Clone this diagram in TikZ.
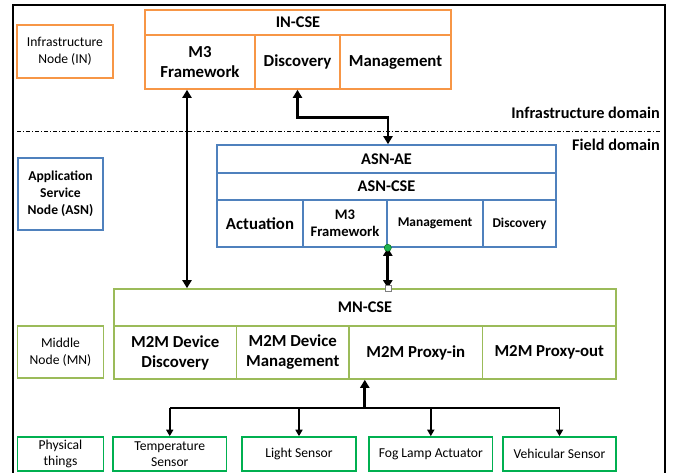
\documentclass[tikz,border=0pt]{standalone}
\usepackage{fontspec}
\setmainfont{Carlito}
\usetikzlibrary{arrows.meta,calc}
\definecolor{orng}{RGB}{247,150,70}
\definecolor{blu}{RGB}{79,129,189}
\definecolor{olv}{RGB}{155,187,89}
\definecolor{grn}{RGB}{0,176,80}
\tikzset{
  bx/.style={draw, line width=1.6pt, inner sep=0pt, align=center, text=black},
  ob/.style={bx, draw=orng},
  bb/.style={bx, draw=blu},
  gb/.style={bx, draw=olv},
  db/.style={bx, draw=grn},
  big/.style={font=\bfseries\fontsize{16.8}{20}\selectfont},
  hdr/.style={font=\bfseries\fontsize{16.3}{19}\selectfont},
  sml/.style={font=\fontsize{13.6}{16.5}\selectfont},
  smb/.style={font=\bfseries\fontsize{13.4}{16}\selectfont},
  conn/.style={line width=2.8pt, {Triangle[length=8pt,width=9pt]}-{Triangle[length=8pt,width=9pt]}},
  bus/.style={line width=1.6pt},
  drop/.style={line width=1.6pt, -{Triangle[length=6.5pt,width=7pt]}},
}
\begin{document}
\begin{tikzpicture}[x=1pt,y=-1pt]
\useasboundingbox (0,0) rectangle (675,473);
\fill[white] (0,0) rectangle (675,473);
% outer frame
\draw[line width=2.4pt] (13,480) -- (13,5) -- (665,5) -- (665,480);
% domain separator
\draw[line width=0.9pt, dash pattern=on 4pt off 2pt on 1pt off 2pt] (17,131) -- (661,131);
\node[anchor=east, hdr, inner sep=0pt] (infd) at (660,113) {Infrastructure domain};
\node[anchor=east, hdr, inner sep=0pt] (fldd) at (660,145) {Field domain};

% IN-CSE
\node[ob, hdr, minimum width=306pt, minimum height=25pt] (incse) at (298,22.5) {IN-CSE};
\node[ob, big, minimum width=110pt, minimum height=54pt] (inm3) at (200,62) {M3\\Framework};
\node[ob, big, minimum width=85pt, minimum height=54pt] (indisc) at (297.5,62) {Discovery};
\node[ob, big, minimum width=111pt, minimum height=54pt] (inmgmt) at (395.5,62) {Management};
\node[ob, sml, minimum width=96pt, minimum height=53pt] (inlbl) at (65,51.5) {Infrastructure\\Node (IN)};

% ASN
\node[bb, hdr, minimum width=339pt, minimum height=28pt] (asnae) at (386.5,159) {ASN-AE};
\node[bb, hdr, minimum width=339pt, minimum height=27pt] (asncse) at (386.5,186.5) {ASN-CSE};
\node[bb, big, minimum width=86pt, minimum height=47pt] (asnact) at (260,223.5) {Actuation};
\node[bb, font=\bfseries\fontsize{14.6}{17.5}\selectfont, minimum width=84pt, minimum height=47pt] (asnm3) at (345,223.5) {M3\\Framework};
\node[bb, smb, minimum width=96pt, minimum height=47pt] (asnmgmt) at (435,223.5) {Management};
\node[bb, smb, minimum width=73pt, minimum height=47pt] (asndisc) at (519.5,223.5) {Discovery};
\node[bb, font=\bfseries\fontsize{13.6}{17}\selectfont, minimum width=85pt, minimum height=72pt] (asnlbl) at (60.5,194) {Application\\Service\\Node (ASN)};

% MN
\node[gb, hdr, minimum width=502pt, minimum height=37pt] (mncse) at (365,307.5) {MN-CSE};
\node[gb, big, minimum width=122.5pt, minimum height=53pt] (mndd) at (175.25,352.5) {M2M Device\\Discovery};
\node[gb, big, minimum width=112.5pt, minimum height=53pt] (mndm) at (292.75,352.5) {M2M Device\\Management};
\node[gb, big, minimum width=133.6pt, minimum height=53pt] (mnpin) at (415.8,352.5) {M2M Proxy-in};
\node[gb, big, minimum width=133.4pt, minimum height=53pt] (mnpout) at (549.3,352.5) {M2M Proxy-out};
\node[gb, sml, minimum width=86pt, minimum height=52pt] (mnlbl) at (60.5,352) {Middle\\Node (MN)};

% physical things
\node[db, sml, minimum width=86pt, minimum height=34pt] (phys) at (60.5,454) {Physical\\things};
\node[db, sml, minimum width=113.5pt, minimum height=34pt] (temp) at (169.75,454) {Temperature\\Sensor};
\node[db, sml, minimum width=114pt, minimum height=34pt] (light) at (299,454) {Light Sensor};
\node[db, sml, minimum width=123.6pt, minimum height=34pt] (fog) at (430.8,454) {Fog Lamp Actuator};
\node[db, sml, minimum width=113pt, minimum height=34pt] (veh) at (559.5,454) {Vehicular Sensor};

% connectors
\coordinate (a1) at ([xshift=-13pt]inm3.south);
\draw[conn] (a1) -- (a1 |- mncse.north);
\draw[conn] (indisc.south) -- ++(0,28) -| ([xshift=1.5pt]asnae.north);
\coordinate (j1) at (asnm3.south east);
\draw[conn] (j1) -- (j1 |- mncse.north);
\fill[grn!80!olv, draw=green!40!black, line width=0.4pt] (j1) circle (3.6pt);
\draw[fill=white, draw=gray, line width=0.5pt] ($(j1 |- mncse.north)+(-3,-3)$) rectangle ++(6,6);

\coordinate (bustop) at ([xshift=-51pt]mnpin.south);
\coordinate (busmid) at ($(bustop)+(0,28)$);
\draw[line width=2.8pt, -{Triangle[length=8pt,width=9pt]}] (busmid) -- (bustop);
\draw[bus] (busmid -| temp.north) -- (busmid -| veh.north);
\foreach \n in {temp,light,fog,veh} \draw[drop] (busmid -| \n.north) -- (\n.north);
\end{tikzpicture}
\end{document}
